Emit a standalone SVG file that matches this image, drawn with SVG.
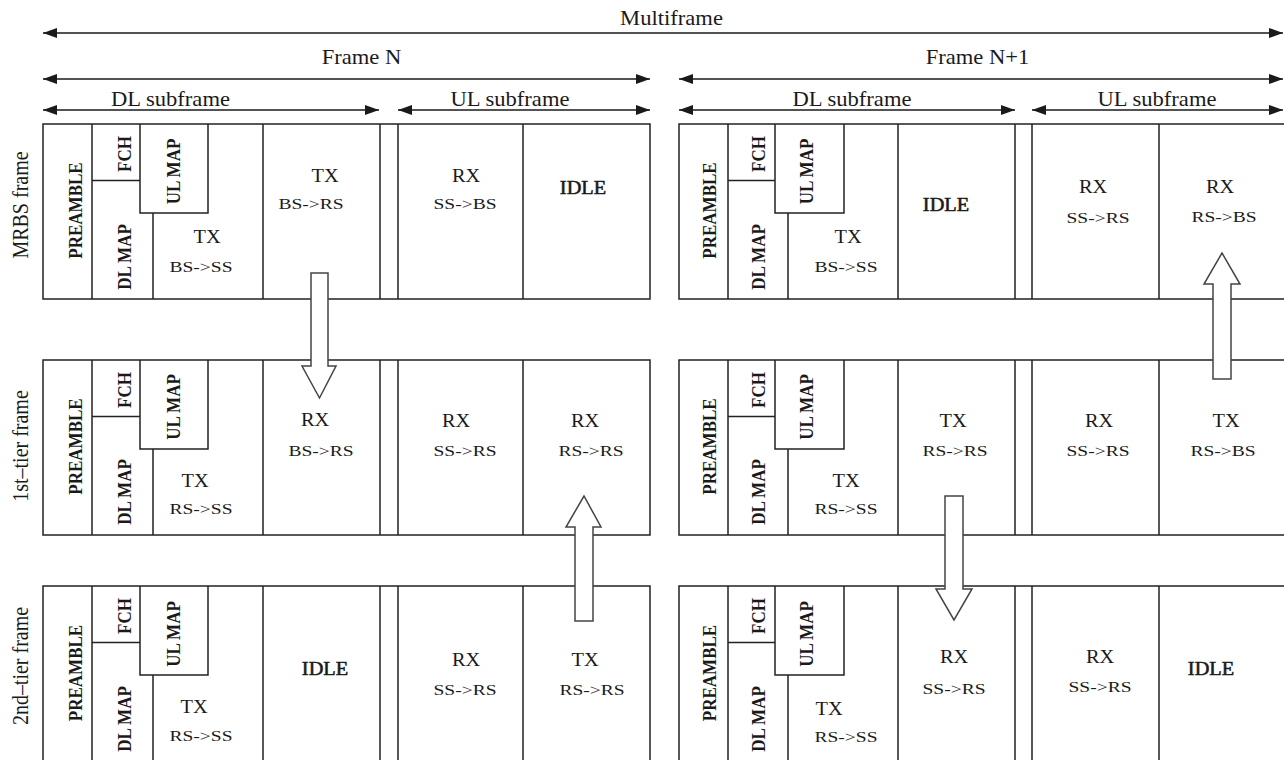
<svg xmlns="http://www.w3.org/2000/svg" width="1284" height="760" viewBox="0 0 1284 760">
<style>
.bg{fill:#ffffff}
.box{fill:none;stroke:#222;stroke-width:1.5}
.dim{fill:none;stroke:#1a1a1a;stroke-width:1.6}
.blk{fill:#ffffff;stroke:#444;stroke-width:1.5;stroke-linejoin:miter}
text{font-family:"Liberation Serif","Times New Roman",serif;fill:#1a1a1a;text-anchor:middle}
.big{font-size:20px}
.lbl{font-size:17px;font-weight:bold}
.m{font-size:18px}
.idle{font-size:18px;stroke:#1a1a1a;stroke-width:0.5}
.s{font-size:15px}
</style>
<defs>
<marker id="ah" viewBox="0 0 14 10" refX="14" refY="5" markerWidth="14" markerHeight="10" markerUnits="userSpaceOnUse" orient="auto-start-reverse">
<path d="M0,0 L14,5 L0,10 z" fill="#1a1a1a"/>
</marker>
</defs>
<rect class="bg" x="0" y="0" width="1284" height="760"/>

<!-- Row labels -->
<g id="row-labels">
<text class="big" transform="translate(27.5,205) scale(1.13,1) rotate(-90)">MRBS frame</text>
<text class="big" transform="translate(27.5,446) scale(1.13,1) rotate(-90)">1st–tier frame</text>
<text class="big" transform="translate(27.5,666) scale(1.13,1) rotate(-90)">2nd–tier frame</text>
</g>

<!-- Dimension labels -->
<g id="dimension-labels">
<text class="big" transform="translate(671.5,25) scale(1.13,1)">Multiframe</text>
<text class="big" transform="translate(361.5,64) scale(1.13,1)">Frame N</text>
<text class="big" transform="translate(977.5,64) scale(1.13,1)">Frame N+1</text>
<text class="big" transform="translate(170.5,106) scale(1.13,1)">DL subframe</text>
<text class="big" transform="translate(510,106) scale(1.13,1)">UL subframe</text>
<text class="big" transform="translate(852,106) scale(1.13,1)">DL subframe</text>
<text class="big" transform="translate(1157,106) scale(1.13,1)">UL subframe</text>
</g>

<!-- MRBS frame, Frame N -->
<g id="mrbs-frame-n">
<rect class="box" x="43" y="124" width="607" height="175"/>
<path class="box" d="M92 124V299 M263 124V299 M380 124V299 M398 124V299 M523 124V299 M92 180.5H140 M140 124V213H208V124 M153 213V299"/>
<text class="lbl" transform="translate(82,210.5) scale(1.13,1) rotate(-90)">PREAMBLE</text>
<text class="lbl" transform="translate(131,154) scale(1.13,1) rotate(-90)">FCH</text>
<text class="lbl" transform="translate(180,171.5) scale(1.13,1) rotate(-90)">UL MAP</text>
<text class="lbl" transform="translate(131,257) scale(1.13,1) rotate(-90)">DL MAP</text>
<text class="m" transform="translate(207,243) scale(1.13,1)">TX</text>
<text class="s" transform="translate(201,272) scale(1.3,1)">BS-&gt;SS</text>
<text class="m" transform="translate(325,182) scale(1.13,1)">TX</text>
<text class="s" transform="translate(311,209) scale(1.3,1)">BS-&gt;RS</text>
<text class="m" transform="translate(466,182) scale(1.13,1)">RX</text>
<text class="s" transform="translate(465,209) scale(1.3,1)">SS-&gt;BS</text>
<text class="idle" transform="translate(583,194) scale(1.13,1)">IDLE</text>
</g>

<!-- MRBS frame, Frame N+1 -->
<g id="mrbs-frame-n1">
<rect class="box" x="679" y="124" width="607" height="175"/>
<path class="box" d="M728 124V299 M898 124V299 M1015 124V299 M1032 124V299 M1159 124V299 M728 180.5H775 M775 124V213H844V124 M788 213V299"/>
<text class="lbl" transform="translate(716,210.5) scale(1.13,1) rotate(-90)">PREAMBLE</text>
<text class="lbl" transform="translate(765,154) scale(1.13,1) rotate(-90)">FCH</text>
<text class="lbl" transform="translate(813,171.5) scale(1.13,1) rotate(-90)">UL MAP</text>
<text class="lbl" transform="translate(765,257) scale(1.13,1) rotate(-90)">DL MAP</text>
<text class="m" transform="translate(848,243) scale(1.13,1)">TX</text>
<text class="s" transform="translate(846,272) scale(1.3,1)">BS-&gt;SS</text>
<text class="idle" transform="translate(946,211) scale(1.13,1)">IDLE</text>
<text class="m" transform="translate(1093,193) scale(1.13,1)">RX</text>
<text class="s" transform="translate(1098,223) scale(1.3,1)">SS-&gt;RS</text>
<text class="m" transform="translate(1220,193) scale(1.13,1)">RX</text>
<text class="s" transform="translate(1224,222) scale(1.3,1)">RS-&gt;BS</text>
</g>

<!-- 1st-tier frame, Frame N -->
<g id="tier1-frame-n">
<rect class="box" x="43" y="360" width="607" height="175"/>
<path class="box" d="M92 360V535 M263 360V535 M380 360V535 M398 360V535 M523 360V535 M92 416.5H140 M140 360V449H208V360 M153 449V535"/>
<text class="lbl" transform="translate(82,446.5) scale(1.13,1) rotate(-90)">PREAMBLE</text>
<text class="lbl" transform="translate(131,390) scale(1.13,1) rotate(-90)">FCH</text>
<text class="lbl" transform="translate(180,407) scale(1.13,1) rotate(-90)">UL MAP</text>
<text class="lbl" transform="translate(131,492) scale(1.13,1) rotate(-90)">DL MAP</text>
<text class="m" transform="translate(195,487) scale(1.13,1)">TX</text>
<text class="s" transform="translate(201,514) scale(1.3,1)">RS-&gt;SS</text>
<text class="m" transform="translate(315,426) scale(1.13,1)">RX</text>
<text class="s" transform="translate(321,456) scale(1.3,1)">BS-&gt;RS</text>
<text class="m" transform="translate(456,427) scale(1.13,1)">RX</text>
<text class="s" transform="translate(465,456) scale(1.3,1)">SS-&gt;RS</text>
<text class="m" transform="translate(585,427) scale(1.13,1)">RX</text>
<text class="s" transform="translate(591,456) scale(1.3,1)">RS-&gt;RS</text>
</g>

<!-- 1st-tier frame, Frame N+1 -->
<g id="tier1-frame-n1">
<rect class="box" x="679" y="360" width="607" height="175"/>
<path class="box" d="M728 360V535 M898 360V535 M1015 360V535 M1032 360V535 M1159 360V535 M728 416.5H775 M775 360V449H844V360 M788 449V535"/>
<text class="lbl" transform="translate(716,446.5) scale(1.13,1) rotate(-90)">PREAMBLE</text>
<text class="lbl" transform="translate(765,390) scale(1.13,1) rotate(-90)">FCH</text>
<text class="lbl" transform="translate(813,407) scale(1.13,1) rotate(-90)">UL MAP</text>
<text class="lbl" transform="translate(765,492) scale(1.13,1) rotate(-90)">DL MAP</text>
<text class="m" transform="translate(846,487) scale(1.13,1)">TX</text>
<text class="s" transform="translate(846,514) scale(1.3,1)">RS-&gt;SS</text>
<text class="m" transform="translate(953,427) scale(1.13,1)">TX</text>
<text class="s" transform="translate(955,456) scale(1.3,1)">RS-&gt;RS</text>
<text class="m" transform="translate(1099,427) scale(1.13,1)">RX</text>
<text class="s" transform="translate(1098,456) scale(1.3,1)">SS-&gt;RS</text>
<text class="m" transform="translate(1226,427) scale(1.13,1)">TX</text>
<text class="s" transform="translate(1223,456) scale(1.3,1)">RS-&gt;BS</text>
</g>

<!-- 2nd-tier frame, Frame N -->
<g id="tier2-frame-n">
<rect class="box" x="43" y="586" width="607" height="204"/>
<path class="box" d="M92 586V790 M263 586V790 M380 586V790 M398 586V790 M523 586V790 M92 642.5H140 M140 586V675H208V586 M153 675V790"/>
<text class="lbl" transform="translate(82,673) scale(1.13,1) rotate(-90)">PREAMBLE</text>
<text class="lbl" transform="translate(131,616) scale(1.13,1) rotate(-90)">FCH</text>
<text class="lbl" transform="translate(180,634) scale(1.13,1) rotate(-90)">UL MAP</text>
<text class="lbl" transform="translate(131,719) scale(1.13,1) rotate(-90)">DL MAP</text>
<text class="m" transform="translate(194,713) scale(1.13,1)">TX</text>
<text class="s" transform="translate(201,741) scale(1.3,1)">RS-&gt;SS</text>
<text class="idle" transform="translate(325,675) scale(1.13,1)">IDLE</text>
<text class="m" transform="translate(466,666) scale(1.13,1)">RX</text>
<text class="s" transform="translate(465,695) scale(1.3,1)">SS-&gt;RS</text>
<text class="m" transform="translate(585,666) scale(1.13,1)">TX</text>
<text class="s" transform="translate(592,695) scale(1.3,1)">RS-&gt;RS</text>
</g>

<!-- 2nd-tier frame, Frame N+1 -->
<g id="tier2-frame-n1">
<rect class="box" x="679" y="586" width="607" height="204"/>
<path class="box" d="M728 586V790 M898 586V790 M1015 586V790 M1032 586V790 M1159 586V790 M728 642.5H775 M775 586V675H844V586 M788 675V790"/>
<text class="lbl" transform="translate(716,673) scale(1.13,1) rotate(-90)">PREAMBLE</text>
<text class="lbl" transform="translate(765,616) scale(1.13,1) rotate(-90)">FCH</text>
<text class="lbl" transform="translate(813,634) scale(1.13,1) rotate(-90)">UL MAP</text>
<text class="lbl" transform="translate(765,719) scale(1.13,1) rotate(-90)">DL MAP</text>
<text class="m" transform="translate(829,715) scale(1.13,1)">TX</text>
<text class="s" transform="translate(846,742) scale(1.3,1)">RS-&gt;SS</text>
<text class="m" transform="translate(954,663) scale(1.13,1)">RX</text>
<text class="s" transform="translate(954,694) scale(1.3,1)">SS-&gt;RS</text>
<text class="m" transform="translate(1100,663) scale(1.13,1)">RX</text>
<text class="s" transform="translate(1100,692) scale(1.3,1)">SS-&gt;RS</text>
<text class="idle" transform="translate(1211,675) scale(1.13,1)">IDLE</text>
</g>

<!-- Connectors -->
<g id="connectors">
<line class="dim" x1="43" y1="33" x2="1283" y2="33" marker-start="url(#ah)" marker-end="url(#ah)"/>
<line class="dim" x1="43" y1="79" x2="650" y2="79" marker-start="url(#ah)" marker-end="url(#ah)"/>
<line class="dim" x1="679" y1="79" x2="1283" y2="79" marker-start="url(#ah)" marker-end="url(#ah)"/>
<line class="dim" x1="43" y1="110" x2="379" y2="110" marker-start="url(#ah)" marker-end="url(#ah)"/>
<line class="dim" x1="398" y1="110" x2="650" y2="110" marker-start="url(#ah)" marker-end="url(#ah)"/>
<line class="dim" x1="679" y1="110" x2="1015" y2="110" marker-start="url(#ah)" marker-end="url(#ah)"/>
<line class="dim" x1="1032" y1="110" x2="1283" y2="110" marker-start="url(#ah)" marker-end="url(#ah)"/>
<polygon class="blk" points="311,273 328,273 328,366 336,366 319.5,398 302,366 311,366"/>
<polygon class="blk" points="575,621 593,621 593,527 601,527 584,496 566,527 575,527"/>
<polygon class="blk" points="945,496 963,496 963,589 972,589 954,620 936,589 945,589"/>
<polygon class="blk" points="1213,379 1231,379 1231,284 1240,284 1222,253 1204,284 1213,284"/>
</g>
</svg>
